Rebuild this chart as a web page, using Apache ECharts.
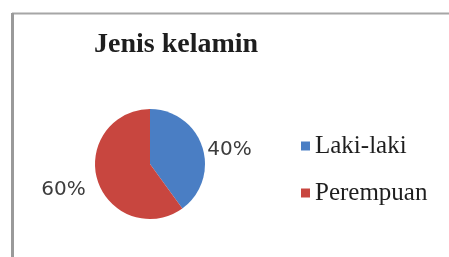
<!DOCTYPE html>
<html>
<head>
<meta charset="utf-8">
<script src="https://cdn.jsdelivr.net/npm/echarts@6/dist/echarts.min.js"></script>
<style>
html,body{margin:0;padding:0;background:#fff;}
#chart{width:449px;height:257px;}
</style>
</head>
<body>
<div id="chart"></div>
<script>
var titleText = 'Jenis kelamin';
var categories = ['Laki-laki', 'Perempuan'];
var values = [40, 60];
var colors = ['#4A7EC4', '#C8463F'];
var labelOffsets = [[0, 3], [-7, 9]];

var chart = echarts.init(document.getElementById('chart'), null, {renderer: 'canvas'});
var data = categories.map(function (c, i) {
  return {
    name: c,
    value: values[i],
    itemStyle: {color: colors[i]},
    label: {offset: labelOffsets[i]}
  };
});
chart.setOption({
  animation: false,
  backgroundColor: '#ffffff',
  title: {
    text: titleText,
    left: 89,
    top: 26,
    textStyle: {
      fontFamily: 'Liberation Serif',
      fontWeight: 'bold',
      fontSize: 28,
      color: '#1e1e1e'
    }
  },
  legend: {
    orient: 'vertical',
    left: 296,
    top: 128,
    itemWidth: 9,
    itemHeight: 9,
    itemGap: 21,
    icon: 'rect',
    data: categories,
    textStyle: {
      fontFamily: 'Liberation Serif',
      fontSize: 25,
      lineHeight: 26,
      color: '#1e1e1e'
    }
  },
  graphic: [
    {type: 'line', shape: {x1: 12, y1: 13.5, x2: 449, y2: 13.5}, style: {stroke: '#a6a6a6', lineWidth: 2}},
    {type: 'line', shape: {x1: 12.5, y1: 13, x2: 12.5, y2: 257}, style: {stroke: '#9a9a9a', lineWidth: 3}}
  ],
  series: [{
    type: 'pie',
    center: [150, 164],
    radius: 55,
    startAngle: 90,
    clockwise: true,
    data: data,
    label: {
      show: true,
      position: 'outside',
      formatter: '{d}%',
      fontFamily: 'DejaVu Sans',
      fontSize: 20,
      color: '#3c3c3c'
    },
    labelLine: {show: false, length: 0, length2: 0},
    itemStyle: {borderWidth: 0},
    emphasis: {disabled: true}
  }]
});
</script>
</body>
</html>
